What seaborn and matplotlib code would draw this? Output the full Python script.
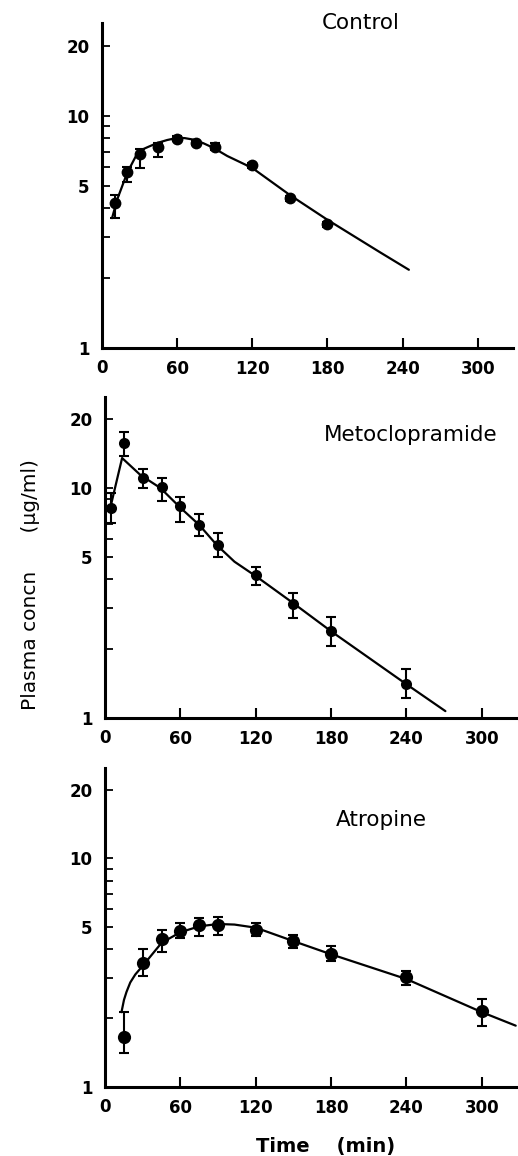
import numpy as np  # numeric helpers
import pandas as pd  # tables for seaborn
import matplotlib
matplotlib.use('Agg')
import matplotlib.pyplot as plt  # plotting library
from matplotlib.ticker import FixedLocator, NullLocator, FuncFormatter
import seaborn as sns  # data visualization library

# ---- data (time in min, plasma concn in ug/ml) ----
# Control
ctrl_t = [10, 20, 30, 45, 60, 75, 90, 120, 150, 180]
ctrl_c = [4.2, 5.7, 6.85, 7.3, 7.95, 7.6, 7.35, 6.1, 4.4, 3.4]
ctrl_lo = [3.63, 5.2, 5.97, 6.65, 7.75, 7.45, 7.1, 5.95, 4.3, 3.3]
ctrl_hi = [4.55, 6.03, 7.2, 7.65, 8.15, 7.75, 7.6, 6.25, 4.5, 3.5]
ctrl_fit_t = [8, 12, 20, 29, 36, 44, 52, 60, 66, 73, 81, 89, 100, 120, 150, 180, 222, 245]
ctrl_fit_c = [3.62, 4.34, 5.66, 7.02, 7.3, 7.62, 7.85, 8.02, 8.0, 7.88, 7.6, 7.26, 6.7, 5.95, 4.55, 3.56, 2.58, 2.17]

# Metoclopramide
meto_t = [5, 15, 30, 45, 60, 75, 90, 120, 150, 180, 240]
meto_c = [8.17, 15.7, 11.1, 10.1, 8.34, 6.93, 5.66, 4.18, 3.14, 2.38, 1.41]
meto_lo = [7.02, 13.8, 10.0, 8.77, 7.11, 6.16, 5.03, 3.78, 2.71, 2.06, 1.22]
meto_hi = [9.5, 17.6, 12.1, 11.1, 9.13, 7.71, 6.37, 4.55, 3.51, 2.75, 1.63]
meto_fit_t = [5, 13.5, 28, 44, 60, 75, 89, 103, 121, 150, 180, 240, 271]
meto_fit_c = [8.6, 13.5, 11.4, 10.0, 8.2, 6.9, 5.64, 4.78, 4.1, 3.15, 2.38, 1.40, 1.07]

# Atropine
atro_t = [15, 30, 45, 60, 75, 90, 120, 150, 180, 240, 300]
atro_c = [1.65, 3.47, 4.42, 4.80, 5.13, 5.13, 4.88, 4.34, 3.80, 3.01, 2.14]
atro_lo = [1.40, 3.06, 3.90, 4.49, 4.57, 4.64, 4.56, 4.06, 3.55, 2.80, 1.84]
atro_hi = [2.12, 3.99, 4.88, 5.22, 5.48, 5.52, 5.22, 4.64, 4.13, 3.22, 2.42]
atro_fit_t = [13, 15, 17, 20, 24, 31, 45, 60, 75, 90, 103, 120, 150, 180, 240, 300, 327]
atro_fit_c = [2.12, 2.4, 2.6, 2.86, 3.1, 3.44, 4.27, 4.75, 5.04, 5.16, 5.13, 4.97, 4.34, 3.80, 2.96, 2.12, 1.85]

panel_names = ['Control', 'Metoclopramide', 'Atropine']
x_ticks = [60, 120, 180, 240, 300]
y_ticks = [1, 2, 3, 4, 5, 6, 7, 8, 9, 10, 20]
y_labeled = [1, 5, 10, 20]

panels = [
    (ctrl_t, ctrl_c, ctrl_lo, ctrl_hi, ctrl_fit_t, ctrl_fit_c),
    (meto_t, meto_c, meto_lo, meto_hi, meto_fit_t, meto_fit_c),
    (atro_t, atro_c, atro_lo, atro_hi, atro_fit_t, atro_fit_c),
]

sns.set_style('ticks')
plt.rcParams['font.family'] = ['DejaVu Sans']
# everything in plain black like the printed figure
for key in ['text.color', 'axes.labelcolor', 'xtick.color', 'ytick.color', 'axes.edgecolor']:
    plt.rcParams[key] = 'black'

fig = plt.figure(figsize=(5.18, 11.56), dpi=100)

# axes rectangles [left, bottom, width, height] in figure fractions
rects = [
    [0.197, 0.699, 0.793, 0.281],
    [0.203, 0.379, 0.795, 0.278],
    [0.203, 0.060, 0.795, 0.276],
]
msizes = [8.5, 8.0, 9.5]
title_pos = [(0.697, 0.980), (0.792, 0.624), (0.736, 0.291)]

for i, (t, c, lo, hi, ft, fc) in enumerate(panels):
    ax = fig.add_axes(rects[i])
    pts = pd.DataFrame({'t': t, 'c': c})
    fit = pd.DataFrame({'t': ft, 'c': fc})

    # fitted curve
    sns.lineplot(data=fit, x='t', y='c', ax=ax, color='black', lw=1.6, sort=False)
    # error bars
    yerr = np.array([np.array(c) - np.array(lo), np.array(hi) - np.array(c)])
    ax.errorbar(t, c, yerr=yerr, fmt='none', ecolor='black', elinewidth=1.5,
                capsize=3.5, capthick=1.5, zorder=3)
    # data points
    sns.scatterplot(data=pts, x='t', y='c', ax=ax, color='black', s=msizes[i] ** 2,
                    edgecolor='black', linewidth=0, zorder=4)

    ax.set_yscale('log')
    ax.set_xlim(0, 328)
    ax.set_ylim(1, 25)
    ax.set_xlabel('')
    ax.set_ylabel('')

    ax.yaxis.set_major_locator(FixedLocator(y_ticks))
    ax.yaxis.set_minor_locator(NullLocator())
    ax.yaxis.set_major_formatter(FuncFormatter(lambda v, p: '%d' % v if round(v) in y_labeled else ''))
    ax.xaxis.set_major_locator(FixedLocator(x_ticks))
    ax.xaxis.set_minor_locator(NullLocator())

    ax.tick_params(axis='y', direction='in', length=6, width=1.3, pad=9,
                   labelsize=12)
    ax.tick_params(axis='x', direction='in', length=7, width=1.5, pad=9,
                   labelsize=12)
    for lab in ax.get_xticklabels() + ax.get_yticklabels():
        lab.set_fontweight('bold')
    # the "0" at the origin has no tick mark
    ax.text(0, -0.035, '0', transform=ax.get_xaxis_transform(), ha='center',
            va='top', fontsize=12, fontweight='bold')

    sns.despine(ax=ax)
    for side in ['left', 'bottom']:
        ax.spines[side].set_linewidth(2.2)

    # panel title
    fig.text(title_pos[i][0], title_pos[i][1], panel_names[i], ha='center',
             va='center', fontsize=15.5)

# shared axis labels
fig.text(0.058, 0.494, 'Plasma concn      (\u00b5g/ml)', rotation=90,
         ha='center', va='center', fontsize=14.5)
fig.text(0.629, 0.008, 'Time    (min)', ha='center', va='center', fontsize=14,
         fontweight='bold')

fig.savefig('out.png', dpi=100)
plt.close(fig)
